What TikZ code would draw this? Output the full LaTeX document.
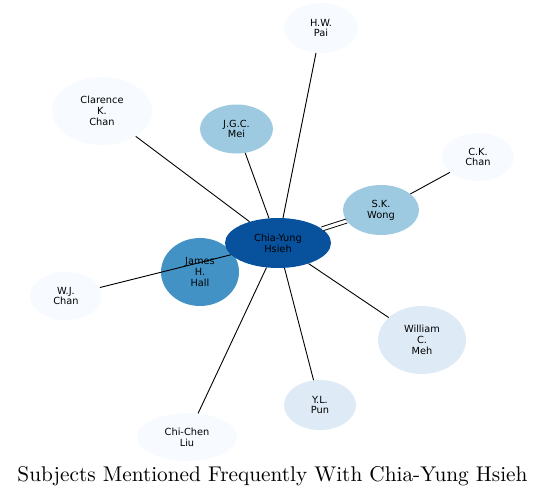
\documentclass[tikz,border=0pt]{standalone}
\usepackage{fontspec}
\newfontfamily\labelfont{DejaVu Sans}
\newfontfamily\titlefont{lmroman10-regular.otf}
\usepackage{tikz}
\usetikzlibrary{shapes.geometric}
\definecolor{heat0}{HTML}{F7FBFF}
\definecolor{heat1}{HTML}{DEEBF7}
\definecolor{heat2}{HTML}{9ECAE1}
\definecolor{heat3}{HTML}{4292C6}
\definecolor{heat4}{HTML}{08519C}

\begin{document}
\begin{tikzpicture}[
  x=1pt,y=-1pt,
  subj/.style={ellipse,inner sep=0pt,align=center,font=\labelfont\fontsize{9.8}{10.8}\selectfont},
  link/.style={line width=0.9pt},
  dlink/.style={line width=0.9pt,double,double distance=3.2pt}
]
\useasboundingbox (0,0) rectangle (545,498);
% outer subjects
\node[subj,fill=heat0,minimum width=74pt,minimum height=50pt] (pai) at (321,28) {H.W.\\Pai};
\node[subj,fill=heat0,minimum width=100pt,minimum height=68pt] (clarence) at (102,111) {Clarence\\K.\\Chan};
\node[subj,fill=heat2,minimum width=73pt,minimum height=49pt] (mei) at (236.5,129) {J.G.C.\\Mei};
\node[subj,fill=heat0,minimum width=72pt,minimum height=48pt] (ckchan) at (478,157) {C.K.\\Chan};
\node[subj,fill=heat2,minimum width=76pt,minimum height=50pt] (wong) at (381,210) {S.K.\\Wong};
\node[subj,fill=heat0,minimum width=72pt,minimum height=48pt] (wjchan) at (66,296) {W.J.\\Chan};
\node[subj,fill=heat1,minimum width=88pt,minimum height=68pt] (meh) at (422,340) {William\\C.\\Meh};
\node[subj,fill=heat1,minimum width=72pt,minimum height=50pt] (pun) at (320,405) {Y.L.\\Pun};
\node[subj,fill=heat0,minimum width=100pt,minimum height=48pt] (liu) at (187,437) {Chi-Chen\\Liu};
\node[subj,fill=heat3,minimum width=78pt,minimum height=68pt] (hall) at (200,272) {James\\H.\\Hall};
% centre
\node[subj,fill=heat4,minimum width=106pt,minimum height=50pt] (hsieh) at (278,243) {Chia-Yung\\Hsieh};

\draw[link] (hsieh) -- (pai);
\draw[link] (hsieh) -- (clarence);
\draw[link] (hsieh) -- (mei);
\draw[link] (wong) -- (ckchan);
\draw[dlink] (hsieh) -- (wong);
\draw[link] (wjchan) -- (hsieh);
\draw[link] (hsieh) -- (meh);
\draw[link] (hsieh) -- (pun);
\draw[link] (hsieh) -- (liu);

\node[font=\titlefont\fontsize{21.3}{25}\selectfont] (title) at (272.5,476) {Subjects Mentioned Frequently With Chia-Yung Hsieh};
\end{tikzpicture}
\end{document}
